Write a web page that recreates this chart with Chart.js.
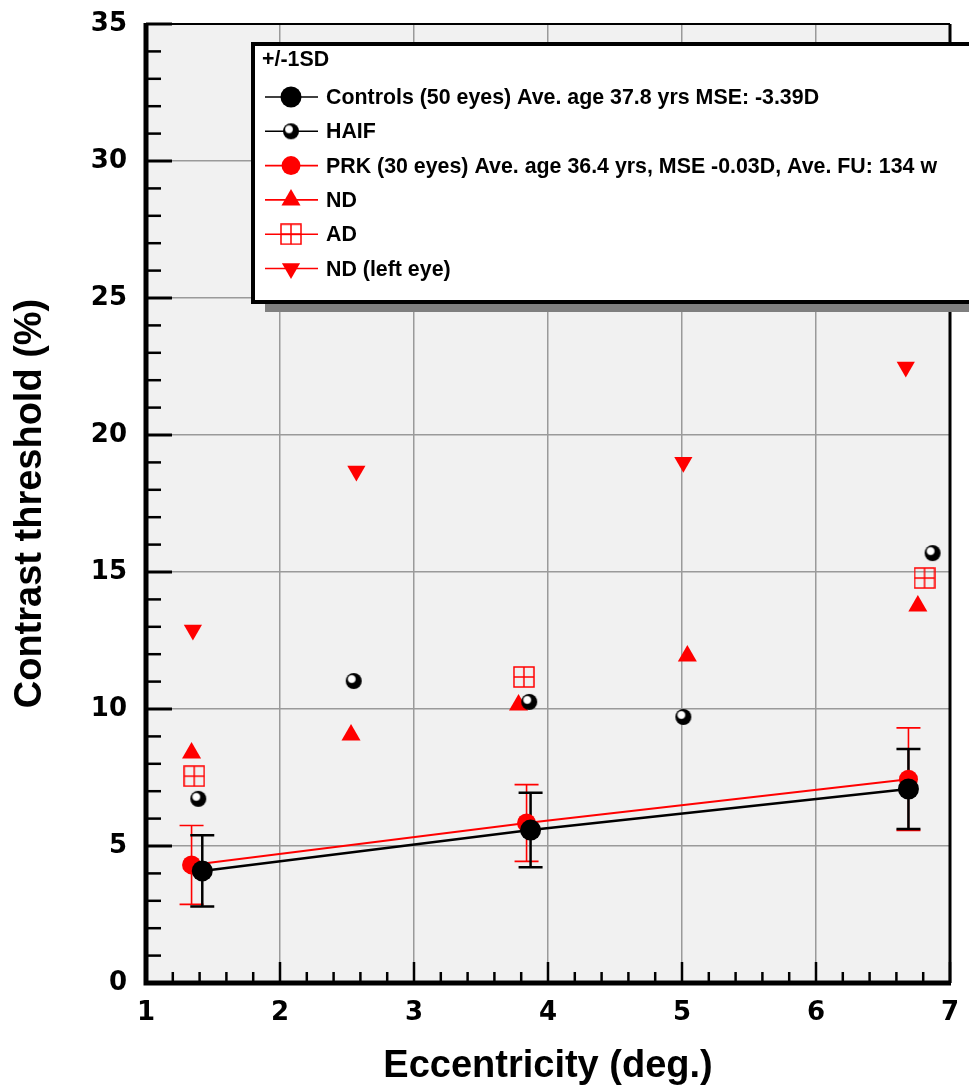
<!DOCTYPE html>
<html>
<head>
<meta charset="utf-8">
<script src="https://cdn.jsdelivr.net/npm/chart.js@4.4.1/dist/chart.umd.min.js"></script>
<style>
html, body { margin: 0; padding: 0; background: #fff; }
#wrap { width: 969px; height: 1089px; }
</style>
</head>
<body>
<div id="wrap"><canvas id="chart" width="969" height="1089"></canvas></div>
<script>
// Dados
const controlsX = [1.42, 3.87, 6.69];
const controlsY = [4.09, 5.58, 7.08];
const controlsSD = [1.30, 1.36, 1.46];

const prkX = [1.34, 3.84, 6.69];
const prkY = [4.31, 5.84, 7.44];
const prkSD = [1.44, 1.40, 1.87];

const haifX = [1.39, 2.55, 3.86, 5.01, 6.87];
const haifY = [6.72, 11.02, 10.26, 9.71, 15.69];

const ndX = [1.34, 2.53, 3.78, 5.04, 6.76];
const ndY = [8.39, 9.05, 10.15, 11.93, 13.76];

const adX = [1.36, 3.82, 6.81];
const adY = [7.55, 11.17, 14.78];

const ndLeftX = [1.35, 2.57, 5.01, 6.67];
const ndLeftY = [12.88, 18.69, 19.01, 22.48];

const xTicks = [1, 2, 3, 4, 5, 6, 7];
const yTicks = [0, 5, 10, 15, 20, 25, 30, 35];

const legendHeader = '+/-1SD';
const labels = [
    'Controls (50 eyes) Ave. age 37.8 yrs MSE: -3.39D',
    'HAIF',
    'PRK (30 eyes) Ave. age 36.4 yrs, MSE -0.03D, Ave. FU: 134 w',
    'ND',
    'AD',
    'ND (left eye)'
];

function toPoints(xs, ys) {
    return xs.map((x, i) => ({ x: x, y: ys[i] }));
}

// Marcador "bola" do HAIF
function makeBall(r) {
    const c = document.createElement('canvas');
    c.width = c.height = 2 * r + 2;
    const g = c.getContext('2d');
    const cx = r + 1;
    g.fillStyle = '#000';
    g.beginPath();
    g.arc(cx, cx, r, 0, Math.PI * 2);
    g.fill();
    const hx = cx - r * 0.25, hy = cx - r * 0.25;
    const grad = g.createRadialGradient(hx, hy, 0, hx, hy, r * 0.58);
    grad.addColorStop(0, '#fff');
    grad.addColorStop(0.7, '#fff');
    grad.addColorStop(1, 'rgba(255,255,255,0)');
    g.fillStyle = grad;
    g.beginPath();
    g.arc(hx, hy, r * 0.58, 0, Math.PI * 2);
    g.fill();
    return c;
}

// Marcador quadrado com cruz (AD)
function makeBoxCross(s) {
    const c = document.createElement('canvas');
    c.width = c.height = s + 2;
    const g = c.getContext('2d');
    g.strokeStyle = '#ff0000';
    g.lineWidth = 1.5;
    g.strokeRect(1, 1, s, s);
    g.beginPath();
    g.moveTo(1 + s / 2, 1);
    g.lineTo(1 + s / 2, 1 + s);
    g.moveTo(1, 1 + s / 2);
    g.lineTo(1 + s, 1 + s / 2);
    g.stroke();
    return c;
}

const ballImg = makeBall(8);
const boxImg = makeBoxCross(20);

// Fundo cinza da área do gráfico
const backgroundPlugin = {
    id: 'plotBackground',
    beforeDraw(chart) {
        const a = chart.chartArea;
        const ctx = chart.ctx;
        ctx.save();
        ctx.fillStyle = '#fff';
        ctx.fillRect(0, 0, chart.width, chart.height);
        ctx.fillStyle = '#f1f1f1';
        ctx.fillRect(a.left, a.top, a.right - a.left, a.bottom - a.top);
        ctx.restore();
    }
};

// Barras de erro (+/-1SD)
const errorBarPlugin = {
    id: 'errorBars',
    beforeDatasetsDraw(chart) {
        const ctx = chart.ctx;
        const xs = chart.scales.x, ys = chart.scales.y;
        const sets = [
            { x: prkX, y: prkY, sd: prkSD, color: '#ff0000', width: 1.6 },
            { x: controlsX, y: controlsY, sd: controlsSD, color: '#000', width: 2.5 }
        ];
        ctx.save();
        sets.forEach(s => {
            ctx.strokeStyle = s.color;
            ctx.lineWidth = s.width;
            s.x.forEach((xv, i) => {
                const px = xs.getPixelForValue(xv);
                const top = ys.getPixelForValue(s.y[i] + s.sd[i]);
                const bot = ys.getPixelForValue(s.y[i] - s.sd[i]);
                ctx.beginPath();
                ctx.moveTo(px, top);
                ctx.lineTo(px, bot);
                ctx.moveTo(px - 12, top);
                ctx.lineTo(px + 12, top);
                ctx.moveTo(px - 12, bot);
                ctx.lineTo(px + 12, bot);
                ctx.stroke();
            });
        });
        ctx.restore();
    }
};

// Moldura e marcas internas dos eixos
const framePlugin = {
    id: 'frame',
    afterDatasetsDraw(chart) {
        const ctx = chart.ctx;
        const a = chart.chartArea;
        const xs = chart.scales.x, ys = chart.scales.y;
        ctx.save();
        ctx.strokeStyle = '#000';
        // topo e direita
        ctx.lineWidth = 2;
        ctx.beginPath();
        ctx.moveTo(a.left, a.top);
        ctx.lineTo(a.right, a.top);
        ctx.stroke();
        ctx.lineWidth = 3;
        ctx.beginPath();
        ctx.moveTo(a.right, a.top);
        ctx.lineTo(a.right, a.bottom);
        ctx.stroke();
        // marcas do eixo y
        for (let v = 0; v <= 35; v += 1) {
            const py = ys.getPixelForValue(v);
            const major = v % 5 === 0;
            ctx.lineWidth = major ? 3 : 2.5;
            ctx.beginPath();
            ctx.moveTo(a.left, py);
            ctx.lineTo(a.left + (major ? 26 : 15), py);
            ctx.stroke();
        }
        // marcas do eixo x
        for (let k = 0; k <= 30; k++) {
            const v = 1 + k * 0.2;
            const px = xs.getPixelForValue(v);
            const major = k % 5 === 0;
            ctx.lineWidth = 2.5;
            ctx.beginPath();
            ctx.moveTo(px, a.bottom);
            ctx.lineTo(px, a.bottom - (major ? 21 : 11));
            ctx.stroke();
        }
        // eixos grossos
        ctx.lineWidth = 5;
        ctx.beginPath();
        ctx.moveTo(a.left, a.top - 1);
        ctx.lineTo(a.left, a.bottom);
        ctx.lineTo(a.right + 1, a.bottom);
        ctx.stroke();
        ctx.restore();
    }
};

// Legenda em caixa com sombra
const legendBoxPlugin = {
    id: 'legendBox',
    afterDraw(chart) {
        const ctx = chart.ctx;
        const left = 253, top = 44, bottom = 302;
        ctx.save();
        ctx.fillStyle = '#7f7f7f';
        ctx.fillRect(left + 12, top + 10, 1000, bottom - top);
        ctx.fillStyle = '#fff';
        ctx.fillRect(left, top, 1000, bottom - top);
        ctx.strokeStyle = '#000';
        ctx.lineWidth = 4;
        ctx.strokeRect(left, top, 1000, bottom - top);

        ctx.font = 'bold 22px "Liberation Sans", Arial, sans-serif';
        const scaleX = 611 / ctx.measureText(labels[2]).width;
        ctx.textBaseline = 'middle';
        ctx.textAlign = 'left';
        ctx.fillStyle = '#000';

        const drawText = (txt, x, y) => {
            ctx.save();
            ctx.translate(x, y);
            ctx.scale(scaleX, 1);
            ctx.fillText(txt, 0, 0);
            ctx.restore();
        };
        drawText(legendHeader, left + 9, top + 16);

        chart.data.datasets.forEach((ds, i) => {
            const y = top + 53 + i * 34.3;
            ctx.strokeStyle = ds.borderColor;
            ctx.lineWidth = 1.6;
            ctx.beginPath();
            ctx.moveTo(left + 12, y);
            ctx.lineTo(left + 65, y);
            ctx.stroke();
            ctx.fillStyle = ds.pointBackgroundColor || ds.borderColor;
            Chart.helpers.drawPoint(ctx, {
                pointStyle: ds.pointStyle,
                radius: ds.pointRadius,
                rotation: ds.pointRotation || 0,
                borderWidth: 0
            }, left + 38, y);
            ctx.fillStyle = '#000';
            drawText(ds.label, left + 73, y + 1);
        });
        ctx.restore();
    }
};

new Chart(document.getElementById('chart'), {
    type: 'scatter',
    data: {
        datasets: [
            {
                label: labels[0],
                data: toPoints(controlsX, controlsY),
                showLine: true,
                borderColor: '#000',
                borderWidth: 2.5,
                pointRadius: 10.5,
                pointBackgroundColor: '#000',
                pointBorderWidth: 0,
                order: 1
            },
            {
                label: labels[1],
                data: toPoints(haifX, haifY),
                borderColor: '#000',
                pointStyle: ballImg,
                pointRadius: 8,
                order: 2
            },
            {
                label: labels[2],
                data: toPoints(prkX, prkY),
                showLine: true,
                borderColor: '#ff0000',
                borderWidth: 2,
                pointRadius: 9.5,
                pointBackgroundColor: '#ff0000',
                pointBorderWidth: 0,
                order: 3
            },
            {
                label: labels[3],
                data: toPoints(ndX, ndY),
                borderColor: '#ff0000',
                pointStyle: 'triangle',
                pointRadius: 11,
                pointBackgroundColor: '#ff0000',
                pointBorderWidth: 0,
                order: 4
            },
            {
                label: labels[4],
                data: toPoints(adX, adY),
                borderColor: '#ff0000',
                pointStyle: boxImg,
                pointRadius: 10,
                order: 5
            },
            {
                label: labels[5],
                data: toPoints(ndLeftX, ndLeftY),
                borderColor: '#ff0000',
                pointStyle: 'triangle',
                pointRotation: 180,
                pointRadius: 10.5,
                pointBackgroundColor: '#ff0000',
                pointBorderWidth: 0,
                order: 6
            }
        ]
    },
    options: {
        responsive: false,
        animation: false,
        layout: { padding: { top: 24, right: 19, left: 0, bottom: 0 } },
        plugins: {
            legend: { display: false },
            tooltip: { enabled: false }
        },
        scales: {
            x: {
                type: 'linear',
                min: 1,
                max: 7,
                afterFit(scale) {
                    scale.height = 106;
                    scale.paddingLeft = 0;
                    scale.paddingRight = 0;
                },
                afterBuildTicks(scale) { scale.ticks = xTicks.map(v => ({ value: v })); },
                border: { display: false },
                grid: { color: '#9a9a9a', lineWidth: 1.5, drawTicks: false },
                ticks: {
                    color: '#000',
                    padding: 15,
                    font: { family: '"DejaVu Sans", sans-serif', size: 26, weight: 'bold' }
                },
                title: {
                    display: true,
                    text: 'Eccentricity (deg.)',
                    color: '#000',
                    padding: { top: 1, bottom: 0 },
                    font: { family: '"Liberation Sans", Arial, sans-serif', size: 38, weight: 'bold' }
                }
            },
            y: {
                type: 'linear',
                min: 0,
                max: 35,
                afterFit(scale) {
                    scale.width = 146;
                    scale.paddingTop = 0;
                    scale.paddingBottom = 0;
                },
                afterBuildTicks(scale) { scale.ticks = yTicks.map(v => ({ value: v })); },
                border: { display: false },
                grid: { color: '#9a9a9a', lineWidth: 1.5, drawTicks: false },
                ticks: {
                    color: '#000',
                    padding: 19,
                    font: { family: '"DejaVu Sans", sans-serif', size: 26, weight: 'bold' }
                },
                title: {
                    display: true,
                    text: 'Contrast threshold (%)',
                    color: '#000',
                    padding: { top: 8, bottom: 0 },
                    font: { family: '"Liberation Sans", Arial, sans-serif', size: 38, weight: 'bold' }
                }
            }
        }
    },
    plugins: [backgroundPlugin, errorBarPlugin, framePlugin, legendBoxPlugin]
});
</script>
</body>
</html>
